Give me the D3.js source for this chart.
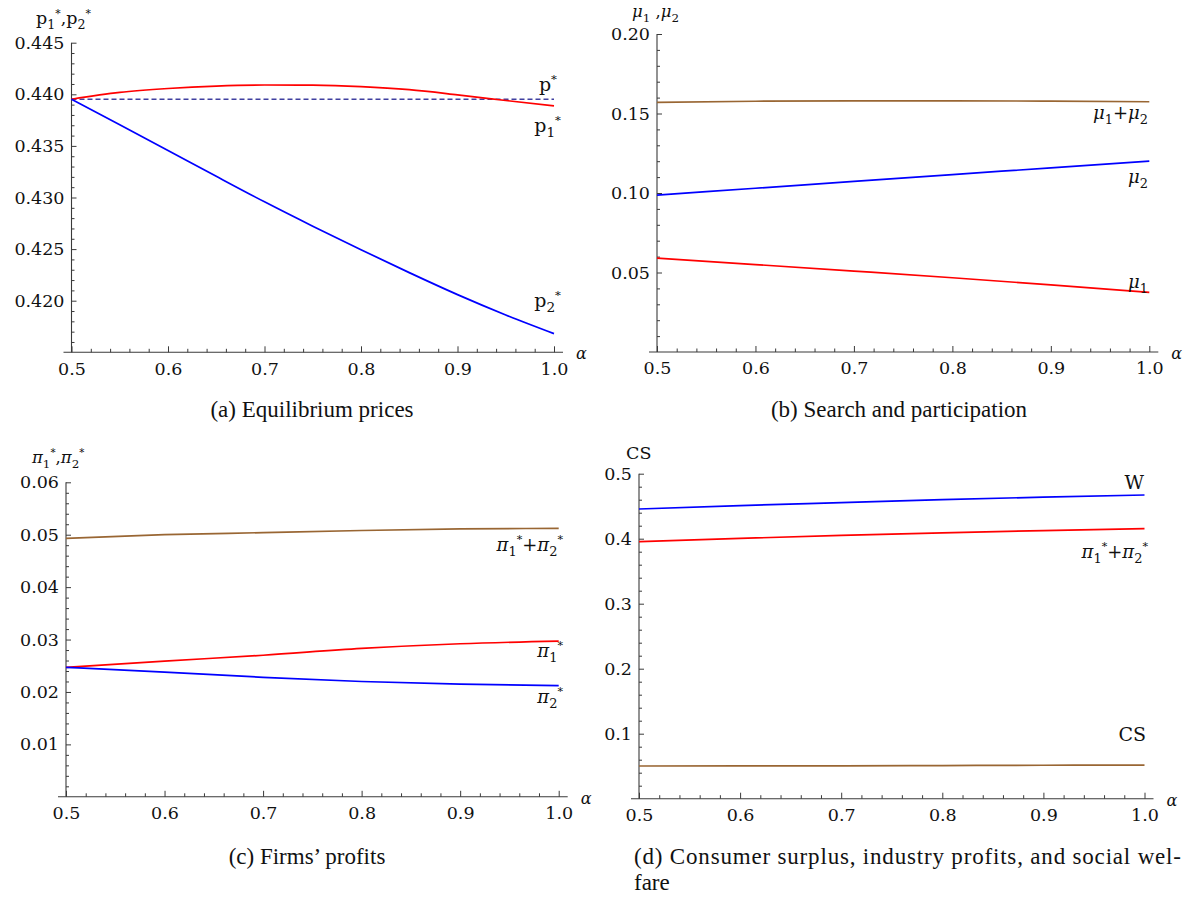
<!DOCTYPE html>
<html>
<head>
<meta charset="utf-8">
<script src="https://cdn.jsdelivr.net/npm/d3@7"></script>
<style>
  html, body { margin: 0; padding: 0; background: #fff; }
  svg { display: block; }
</style>
</head>
<body>
<svg id="chart" width="1189" height="897"></svg>
<script>
// ---------------- DATA ----------------
const alphaFine = [0.5, 0.55, 0.6, 0.65, 0.7, 0.75, 0.8, 0.85, 0.9, 0.95, 1.0];
const alpha = [0.5, 0.6, 0.7, 0.8, 0.9, 1.0];

// (a) Equilibrium prices
const pStar = [0.43952, 0.43952, 0.43952, 0.43952, 0.43952, 0.43952, 0.43952, 0.43952, 0.43952, 0.43952, 0.43952];
const p1 = [0.43952, 0.44018, 0.44056, 0.44080, 0.44090, 0.44088, 0.44074, 0.44045, 0.43995, 0.43940, 0.43887];
const p2 = [0.43952, 0.43705, 0.43456, 0.43205, 0.42958, 0.42722, 0.42494, 0.42272, 0.42059, 0.41862, 0.41681];

// (b) Search and participation
const mu1 = [0.0590, 0.0550, 0.0509, 0.0467, 0.0422, 0.0375];
const mu2 = [0.0987, 0.1030, 0.1073, 0.1116, 0.1158, 0.1201];
const muSum = [0.1570, 0.1577, 0.1580, 0.1580, 0.1578, 0.1574];

// (c) Firms' profits
const pi1 = [0.0247, 0.0259, 0.0270, 0.0283, 0.0292, 0.0297];
const pi2 = [0.0247, 0.0238, 0.0228, 0.0220, 0.0215, 0.0212];
const piSum = [0.0493, 0.0500, 0.0504, 0.0508, 0.0511, 0.0512];

// (d) Consumer surplus, industry profits, welfare
const welfare = [0.4457, 0.4510, 0.4555, 0.4600, 0.4640, 0.4672];
const industryProfit = [0.3954, 0.4005, 0.4050, 0.4090, 0.4125, 0.4154];
const consumerSurplus = [0.0503, 0.0505, 0.0505, 0.0510, 0.0515, 0.0518];

// tick values
const xMajor = [0.5, 0.6, 0.7, 0.8, 0.9, 1.0];
const xTickLabels = ["0.5", "0.6", "0.7", "0.8", "0.9", "1.0"];
const yMajorA = [0.420, 0.425, 0.430, 0.435, 0.440, 0.445];
const yLabelsA = ["0.420", "0.425", "0.430", "0.435", "0.440", "0.445"];
const yMajorB = [0.05, 0.10, 0.15, 0.20];
const yLabelsB = ["0.05", "0.10", "0.15", "0.20"];
const yMajorC = [0.01, 0.02, 0.03, 0.04, 0.05, 0.06];
const yLabelsC = ["0.01", "0.02", "0.03", "0.04", "0.05", "0.06"];
const yMajorD = [0.1, 0.2, 0.3, 0.4, 0.5];
const yLabelsD = ["0.1", "0.2", "0.3", "0.4", "0.5"];

// ---------------- STYLE ----------------
const RED = "#ff0000", BLUE = "#0000ff", BROWN = "#996633", DASH = "#4040a0";
const AXIS = "#3a3a3a";
const TICKFONT = "'DejaVu Serif', serif";
const CAPFONT = "'Liberation Serif', 'Times New Roman', serif";

const svg = d3.select("#chart");
svg.append("rect").attr("width", 1189).attr("height", 897).attr("fill", "#fff");

function rich(g, x, y, parts, opts) {
  const size = opts.size;
  const t = g.append("text")
    .attr("x", x).attr("y", y)
    .attr("text-anchor", opts.anchor || "start")
    .style("font-family", opts.font || TICKFONT)
    .style("font-size", size + "px")
    .attr("fill", "#111");
  let cur = 0;
  parts.forEach(p => {
    const off = p.sub ? size * 0.28 : (p.sup ? -size * 0.42 : 0);
    const ts = t.append("tspan").attr("dy", off - cur).text(p.t);
    if (p.sub || p.sup) ts.style("font-size", (size * (p.sup ? 0.62 : 0.72)) + "px");
    if (p.it) ts.style("font-style", "italic");
    cur = off;
  });
  return t;
}

function panel(cfg) {
  const g = svg.append("g");
  const x = d3.scaleLinear().domain([0.5, 1.0]).range([cfg.x0, cfg.x1]);
  const y = d3.scaleLinear().domain(cfg.yDomain).range([cfg.yBottom, cfg.yTop]);

  // axis lines
  g.append("line").attr("x1", cfg.x0 - 8).attr("x2", cfg.x1 + 9)
    .attr("y1", cfg.yBottom).attr("y2", cfg.yBottom)
    .attr("stroke", AXIS).attr("stroke-width", 1.1);
  g.append("line").attr("x1", cfg.x0).attr("x2", cfg.x0)
    .attr("y1", cfg.yBottom).attr("y2", y(cfg.yDomain[1]))
    .attr("stroke", AXIS).attr("stroke-width", 1.1);

  // x minor ticks
  const xMinor = d3.range(0, 26).map(i => +(0.5 + i * 0.02).toFixed(2)).filter(v => !xMajor.some(m => Math.abs(m - v) < 1e-9));
  const xMinorAxis = d3.axisBottom(x).tickValues(xMinor).tickFormat("").tickSizeInner(-3.5).tickSizeOuter(0);
  const gxm = g.append("g").attr("transform", `translate(0,${cfg.yBottom})`).call(xMinorAxis);
  // x major ticks
  const xAxis = d3.axisBottom(x).tickValues(xMajor).tickFormat((d, i) => xTickLabels[i])
    .tickSizeInner(-6).tickSizeOuter(0).tickPadding(10);
  const gx = g.append("g").attr("transform", `translate(0,${cfg.yBottom})`).call(xAxis);

  // y minor ticks
  const [y0, y1] = cfg.yDomain;
  const n = Math.round((y1 - y0) / cfg.yMinorStep);
  const yMinor = d3.range(0, n + 1).map(i => y0 + i * cfg.yMinorStep)
    .filter(v => v > y0 + 1e-9 && !cfg.yMajor.some(m => Math.abs(m - v) < 1e-9));
  const yMinorAxis = d3.axisLeft(y).tickValues(yMinor).tickFormat("").tickSizeInner(-3).tickSizeOuter(0);
  const gym = g.append("g").attr("transform", `translate(${cfg.x0},0)`).call(yMinorAxis);
  const yAxis = d3.axisLeft(y).tickValues(cfg.yMajor).tickFormat((d, i) => cfg.yLabels[i])
    .tickSizeInner(-5).tickSizeOuter(0).tickPadding(7);
  const gy = g.append("g").attr("transform", `translate(${cfg.x0},0)`).call(yAxis);

  [gxm, gx, gym, gy].forEach(a => {
    a.select(".domain").remove();
    a.selectAll("line").attr("stroke", AXIS).attr("stroke-width", 1);
    a.selectAll("text").style("font-family", TICKFONT).style("font-size", "17.5px").attr("fill", "#111");
  });

  // series
  cfg.series.forEach(s => {
    const line = d3.line().x((d, i) => x(s.xs[i])).y(d => y(d)).curve(d3.curveMonotoneX);
    g.append("path").attr("d", line(s.values))
      .attr("fill", "none").attr("stroke", s.color).attr("stroke-width", 1.7)
      .attr("stroke-dasharray", s.dash || null);
  });

  // alpha label
  g.append("text").attr("x", cfg.x1 + 22).attr("y", cfg.yBottom + 7)
    .style("font-family", TICKFONT).style("font-style", "italic").style("font-size", "16px")
    .attr("fill", "#111").text("α");

  // axis title
  rich(g, cfg.titleX, cfg.titleY, cfg.title, { size: cfg.titleSize || 17.5 });

  // curve labels
  cfg.labels.forEach(l => rich(g, l.x, l.y, l.parts, { size: l.size || 19, anchor: "end" }));

  return g;
}

// (a)
panel({
  x0: 71.5, x1: 554, yTop: 42.7, yBottom: 352.3, yDomain: [0.415, 0.445],
  yMajor: yMajorA, yLabels: yLabelsA, yMinorStep: 0.001,
  series: [
    { xs: alphaFine, values: pStar, color: DASH, dash: "5,3" },
    { xs: alphaFine, values: p1, color: RED },
    { xs: alphaFine, values: p2, color: BLUE }
  ],
  titleX: 36, titleY: 24,
  title: [{ t: "p" }, { t: "1", sub: true }, { t: "*", sup: true }, { t: "," }, { t: "p" }, { t: "2", sub: true }, { t: "*", sup: true }],
  labels: [
    { x: 557, y: 91, parts: [{ t: "p" }, { t: "*", sup: true }] },
    { x: 561, y: 132, parts: [{ t: "p" }, { t: "1", sub: true }, { t: "*", sup: true }] },
    { x: 561, y: 307, parts: [{ t: "p" }, { t: "2", sub: true }, { t: "*", sup: true }] }
  ]
});

// (b)
panel({
  x0: 657, x1: 1149.3, yTop: 34, yBottom: 352, yDomain: [0, 0.20],
  yMajor: yMajorB, yLabels: yLabelsB, yMinorStep: 0.01,
  series: [
    { xs: alpha, values: muSum, color: BROWN },
    { xs: alpha, values: mu2, color: BLUE },
    { xs: alpha, values: mu1, color: RED }
  ],
  titleX: 632, titleY: 17, titleSize: 16.5,
  title: [{ t: "μ", it: true }, { t: "1", sub: true }, { t: " ," }, { t: "μ", it: true }, { t: "2", sub: true }],
  labels: [
    { x: 1148, y: 119, size: 18, parts: [{ t: "μ", it: true }, { t: "1", sub: true }, { t: "+" }, { t: "μ", it: true }, { t: "2", sub: true }] },
    { x: 1148, y: 183, size: 18, parts: [{ t: "μ", it: true }, { t: "2", sub: true }] },
    { x: 1148, y: 288, size: 18, parts: [{ t: "μ", it: true }, { t: "1", sub: true }] }
  ]
});

// (c)
panel({
  x0: 66, x1: 558.7, yTop: 482.3, yBottom: 796.8, yDomain: [0, 0.06],
  yMajor: yMajorC, yLabels: yLabelsC, yMinorStep: 0.002,
  series: [
    { xs: alpha, values: piSum, color: BROWN },
    { xs: alpha, values: pi1, color: RED },
    { xs: alpha, values: pi2, color: BLUE }
  ],
  titleX: 32, titleY: 463, titleSize: 16.5,
  title: [{ t: "π", it: true }, { t: "1", sub: true }, { t: "*", sup: true }, { t: "," }, { t: "π", it: true }, { t: "2", sub: true }, { t: "*", sup: true }],
  labels: [
    { x: 563, y: 551, size: 18, parts: [{ t: "π", it: true }, { t: "1", sub: true }, { t: "*", sup: true }, { t: "+" }, { t: "π", it: true }, { t: "2", sub: true }, { t: "*", sup: true }] },
    { x: 563, y: 657, size: 18, parts: [{ t: "π", it: true }, { t: "1", sub: true }, { t: "*", sup: true }] },
    { x: 563, y: 703, size: 18, parts: [{ t: "π", it: true }, { t: "2", sub: true }, { t: "*", sup: true }] }
  ]
});

// (d)
panel({
  x0: 639, x1: 1144.5, yTop: 473.7, yBottom: 798.7, yDomain: [0, 0.5],
  yMajor: yMajorD, yLabels: yLabelsD, yMinorStep: 0.02,
  series: [
    { xs: alpha, values: welfare, color: BLUE },
    { xs: alpha, values: industryProfit, color: RED },
    { xs: alpha, values: consumerSurplus, color: BROWN }
  ],
  titleX: 626, titleY: 459,
  title: [{ t: "CS" }],
  labels: [
    { x: 1144, y: 489, parts: [{ t: "W" }] },
    { x: 1148, y: 558, size: 18, parts: [{ t: "π", it: true }, { t: "1", sub: true }, { t: "*", sup: true }, { t: "+" }, { t: "π", it: true }, { t: "2", sub: true }, { t: "*", sup: true }] },
    { x: 1146, y: 741, parts: [{ t: "CS" }] }
  ]
});

// captions
function caption(x, y, txt, anchor, width) {
  const t = svg.append("text").attr("x", x).attr("y", y).attr("text-anchor", anchor)
    .style("font-family", CAPFONT).style("font-size", "23px").attr("fill", "#111").text(txt);
  if (width) t.attr("textLength", width).attr("lengthAdjust", "spacing");
  return t;
}
caption(312, 417, "(a) Equilibrium prices", "middle", null);
caption(899, 417, "(b) Search and participation", "middle", null);
caption(307, 864, "(c) Firms’ profits", "middle", null);
caption(634, 864, "(d) Consumer surplus, industry profits, and social wel-", "start", 547);
caption(634, 890, "fare", "start", null);
</script>
</body>
</html>
